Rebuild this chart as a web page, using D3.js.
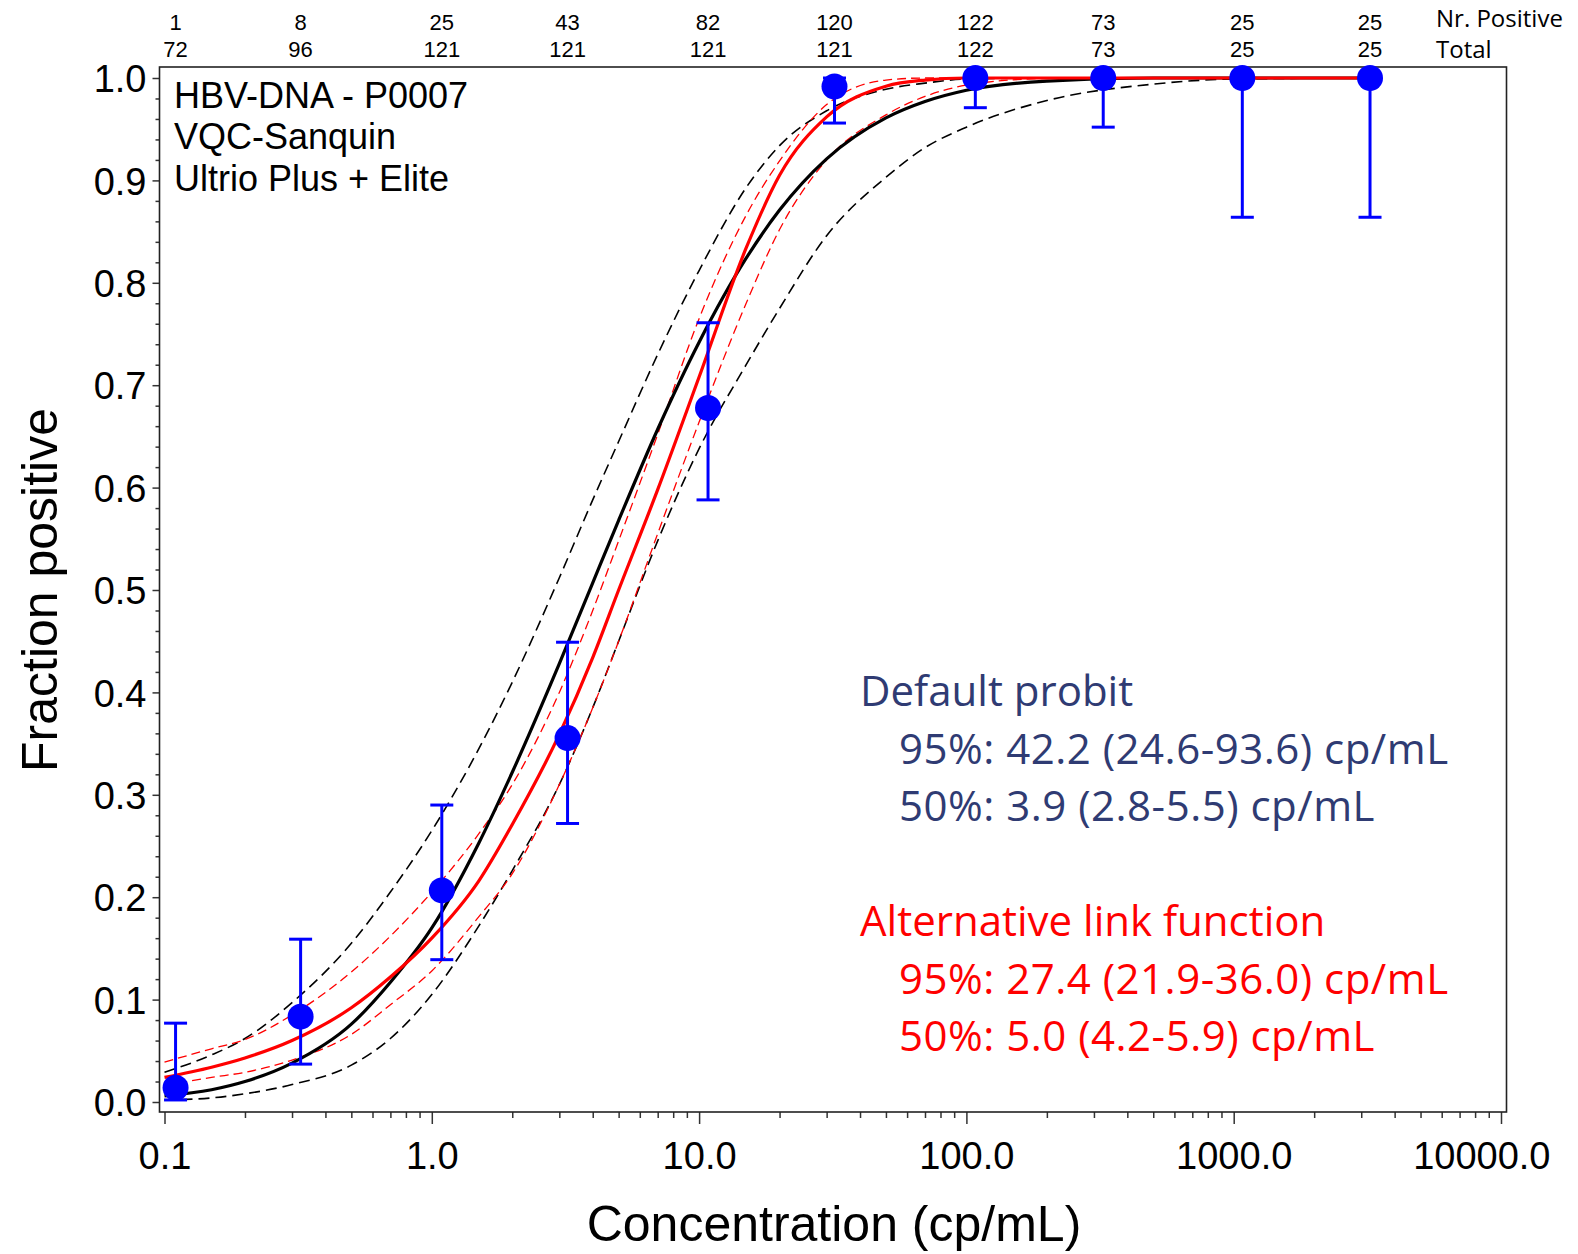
<!DOCTYPE html>
<html lang="en">
<head>
<meta charset="UTF-8">
<title>HBV-DNA - P0007 probit</title>
<script src="https://d3js.org/d3.v7.min.js"></script>
<style>
    body {
        margin: 0;
        background-color: #fff;
    }
    svg text {
        font-family: "Liberation Sans", Arial, sans-serif;
        fill: #000;
    }
    .calibri {
        font-family: "Open Sans", sans-serif !important;
    }
    .axis .domain {
        display: none;
    }
    .axis line {
        stroke: #333;
        stroke-width: 1.5px;
    }
</style>
</head>
<body>
<svg id="chart" width="1578" height="1254"></svg>
<script>
    // panel members
    var conc = [0.11, 0.323, 1.09, 3.22, 10.8, 32.1, 108, 325, 1077, 3236];
    var nPositive = [1, 8, 25, 43, 82, 120, 122, 73, 25, 25];
    var nTotal = [72, 96, 121, 121, 121, 121, 122, 73, 25, 25];
    var ciLow = [0.002, 0.037, 0.139, 0.272, 0.588, 0.956, 0.971, 0.952, 0.864, 0.864];
    var ciHigh = [0.077, 0.159, 0.290, 0.449, 0.761, 1.0, 1.0, 1.0, 1.0, 1.0];

    // fitted curves, read at these concentrations
    var curveConc = [0.1, 0.15, 0.2, 0.3, 0.5, 0.7, 1, 1.5, 2, 3, 4, 5, 7, 10, 15, 20, 30, 50, 70, 100, 200, 500, 1000, 3236];
    var probitFit = [0.006, 0.012, 0.020, 0.038, 0.076, 0.117, 0.170, 0.253, 0.322, 0.428, 0.507, 0.568, 0.657, 0.742, 0.824, 0.871, 0.921, 0.961, 0.977, 0.988, 0.997, 1.0, 1.0, 1.0];
    var probitUpper = [0.029, 0.046, 0.062, 0.097, 0.155, 0.205, 0.265, 0.345, 0.410, 0.512, 0.588, 0.645, 0.730, 0.812, 0.893, 0.934, 0.968, 0.989, 0.995, 0.999, 1.0, 1.0, 1.0, 1.0];
    var probitLower = [0.002, 0.004, 0.008, 0.017, 0.036, 0.062, 0.105, 0.172, 0.226, 0.310, 0.385, 0.450, 0.548, 0.638, 0.720, 0.775, 0.846, 0.903, 0.932, 0.952, 0.978, 0.994, 0.999, 1.0];
    var altFit = [0.024, 0.034, 0.043, 0.060, 0.092, 0.122, 0.160, 0.216, 0.271, 0.359, 0.434, 0.500, 0.598, 0.708, 0.834, 0.905, 0.962, 0.992, 0.998, 1.0, 1.0, 1.0, 1.0, 1.0];
    var altUpper = [0.039, 0.052, 0.061, 0.085, 0.127, 0.162, 0.205, 0.262, 0.310, 0.400, 0.480, 0.548, 0.652, 0.765, 0.866, 0.919, 0.974, 0.998, 1.0, 1.0, 1.0, 1.0, 1.0, 1.0];
    var altLower = [0.016, 0.024, 0.029, 0.041, 0.066, 0.095, 0.128, 0.181, 0.223, 0.310, 0.385, 0.450, 0.555, 0.664, 0.780, 0.852, 0.920, 0.964, 0.982, 0.993, 0.9995, 1.0, 1.0, 1.0];

    var xTicks = [0.1, 1, 10, 100, 1000, 10000];
    var yTicks = [0, 0.1, 0.2, 0.3, 0.4, 0.5, 0.6, 0.7, 0.8, 0.9, 1.0];
    var infoLines = ["HBV-DNA - P0007", "VQC-Sanquin", "Ultrio Plus + Elite"];
    var probitLegend = ["Default probit", "95%: 42.2 (24.6-93.6) cp/mL", "50%: 3.9 (2.8-5.5) cp/mL"];
    var altLegend = ["Alternative link function", "95%: 27.4 (21.9-36.0) cp/mL", "50%: 5.0 (4.2-5.9) cp/mL"];

    var svg = d3.select("#chart"),
        width = +svg.attr("width");

    var frame = { left: 159.5, right: 1506.5, top: 67, bottom: 1112 };

    var x = d3.scaleLog()
        .domain([0.1, 10000])
        .range([164.5, 1501]);
    var y = d3.scaleLinear()
        .domain([0, 1])
        .range([1102, 78]);

    var navy = "#2f3b73";

    // axes
    var xMinor = [];
    xTicks.slice(0, -1).forEach(function (d) {
        for (var k = 2; k < 10; k++) xMinor.push(d * k);
    });
    var yMinor = d3.range(0, 1.001, 0.02).filter(function (d) {
        return Math.abs(d * 10 - Math.round(d * 10)) > 0.01;
    });

    svg.append("g")
        .attr("class", "axis")
        .attr("transform", "translate(0," + frame.bottom + ")")
        .call(d3.axisBottom(x).tickValues(xMinor).tickSize(6).tickFormat(""));
    var xAxis = svg.append("g")
        .attr("class", "axis")
        .attr("transform", "translate(0," + frame.bottom + ")")
        .call(d3.axisBottom(x).tickValues(xTicks).tickSize(12).tickFormat(d3.format(".1f")));
    xAxis.selectAll("text")
        .attr("y", 57)
        .attr("dy", null)
        .style("font-size", "38px")
        .each(function () {
            // keep the last label inside the picture
            var t = d3.select(this),
                tx = x(t.datum()),
                w = this.getComputedTextLength();
            if (tx + w / 2 > width - 28) t.attr("x", (width - 28) - w / 2 - tx);
        });

    svg.append("g")
        .attr("class", "axis")
        .attr("transform", "translate(" + frame.left + ",0)")
        .call(d3.axisLeft(y).tickValues(yMinor).tickSize(4).tickFormat(""));
    var yAxis = svg.append("g")
        .attr("class", "axis")
        .attr("transform", "translate(" + frame.left + ",0)")
        .call(d3.axisLeft(y).tickValues(yTicks).tickSize(7).tickPadding(6).tickFormat(d3.format(".1f")));
    yAxis.selectAll("text")
        .attr("dy", "0.36em")
        .style("font-size", "38px");

    svg.append("rect")
        .attr("x", frame.left)
        .attr("y", frame.top)
        .attr("width", frame.right - frame.left)
        .attr("height", frame.bottom - frame.top)
        .attr("fill", "none")
        .attr("stroke", "#222")
        .attr("stroke-width", 1.6);

    // curves
    function curveLine(values) {
        return d3.line()
            .x(function (d, i) { return x(curveConc[i]); })
            .y(function (d) { return y(d); })
            .curve(d3.curveMonotoneX)(values);
    }

    var curves = [
        { v: probitUpper, color: "#000", w: 1.6, dash: "11,6" },
        { v: probitLower, color: "#000", w: 1.6, dash: "11,6" },
        { v: altUpper, color: "#ff0000", w: 1.3, dash: "9,5" },
        { v: altLower, color: "#ff0000", w: 1.3, dash: "9,5" },
        { v: probitFit, color: "#000", w: 3.2, dash: null },
        { v: altFit, color: "#ff0000", w: 3.2, dash: null }
    ];
    svg.append("g").selectAll("path")
        .data(curves)
        .enter().append("path")
        .attr("d", function (d) { return curveLine(d.v); })
        .attr("fill", "none")
        .attr("stroke", function (d) { return d.color; })
        .attr("stroke-width", function (d) { return d.w; })
        .attr("stroke-dasharray", function (d) { return d.dash; });

    // observed hit rates with 95% intervals
    var pts = conc.map(function (c, i) {
        return { c: c, p: nPositive[i] / nTotal[i], lo: ciLow[i], hi: ciHigh[i], pos: nPositive[i], tot: nTotal[i] };
    });
    var bars = svg.append("g")
        .attr("stroke", "#0000ff")
        .attr("stroke-width", 3)
        .selectAll("g")
        .data(pts)
        .enter().append("g");
    bars.append("line")
        .attr("x1", function (d) { return x(d.c); })
        .attr("x2", function (d) { return x(d.c); })
        .attr("y1", function (d) { return y(d.lo); })
        .attr("y2", function (d) { return y(d.hi); });
    ["lo", "hi"].forEach(function (k) {
        bars.append("line")
            .attr("x1", function (d) { return x(d.c) - 11.5; })
            .attr("x2", function (d) { return x(d.c) + 11.5; })
            .attr("y1", function (d) { return y(d[k]); })
            .attr("y2", function (d) { return y(d[k]); });
    });
    svg.append("g").selectAll("circle")
        .data(pts)
        .enter().append("circle")
        .attr("cx", function (d) { return x(d.c); })
        .attr("cy", function (d) { return y(d.p); })
        .attr("r", 13)
        .attr("fill", "#0000ff");

    // counts above the frame
    var counts = svg.append("g")
        .attr("text-anchor", "middle")
        .style("font-size", "22px");
    counts.selectAll("text.pos")
        .data(pts)
        .enter().append("text")
        .attr("class", "pos")
        .attr("x", function (d) { return x(d.c); })
        .attr("y", 30)
        .text(function (d) { return d.pos; });
    counts.selectAll("text.tot")
        .data(pts)
        .enter().append("text")
        .attr("class", "tot")
        .attr("x", function (d) { return x(d.c); })
        .attr("y", 56.5)
        .text(function (d) { return d.tot; });
    svg.append("text")
        .attr("class", "calibri")
        .attr("x", 1436).attr("y", 27)
        .style("font-size", "24px")
        .text("Nr. Positive");
    svg.append("text")
        .attr("class", "calibri")
        .attr("x", 1436).attr("y", 58)
        .style("font-size", "24px")
        .text("Total");

    // panel info
    svg.append("g").selectAll("text")
        .data(infoLines)
        .enter().append("text")
        .attr("x", 174)
        .attr("y", function (d, i) { return 108 + i * 41.3; })
        .style("font-size", "36px")
        .text(function (d) { return d; });

    // LoD summary
    function legendBlock(lines, color, top) {
        svg.append("g").selectAll("text")
            .data(lines)
            .enter().append("text")
            .attr("class", "calibri")
            .attr("x", function (d, i) { return i === 0 ? 860 : 899; })
            .attr("y", function (d, i) { return top + i * 57.5; })
            .style("font-size", "42px")
            .style("letter-spacing", function (d, i) { return i === 0 ? null : "0.5px"; })
            .style("fill", color)
            .text(function (d) { return d; });
    }
    legendBlock(probitLegend, navy, 706);
    legendBlock(altLegend, "#ff0000", 936);

    // axis titles
    svg.append("text")
        .attr("text-anchor", "middle")
        .attr("x", 834)
        .attr("y", 1241)
        .style("font-size", "50px")
        .text("Concentration (cp/mL)");
    svg.append("text")
        .attr("text-anchor", "middle")
        .attr("transform", "translate(57,590) rotate(-90)")
        .style("font-size", "50px")
        .text("Fraction positive");
</script>
</body>
</html>
